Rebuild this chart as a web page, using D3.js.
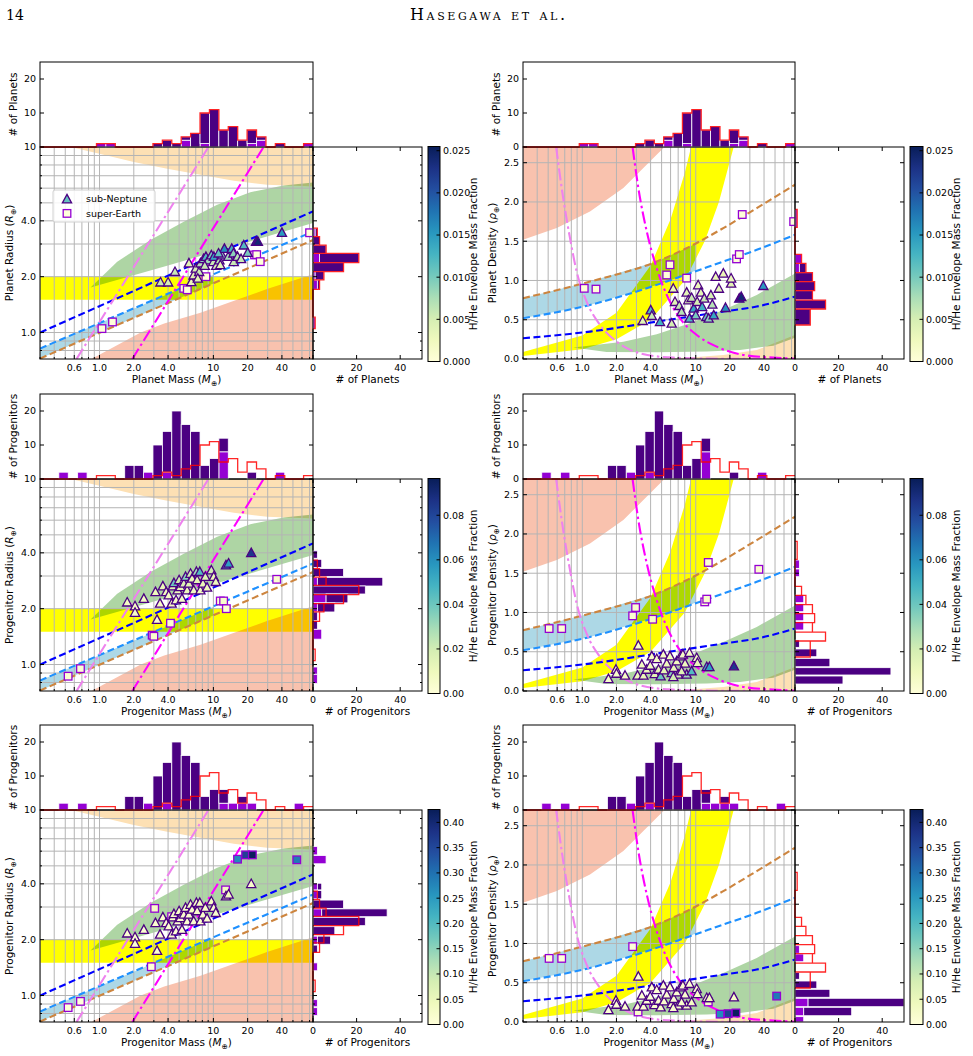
<!DOCTYPE html>
<html>
<head>
<meta charset="utf-8">
<script src="https://cdn.jsdelivr.net/npm/d3@7"></script>
<style>
  body { margin: 0; background: #fff; }
  svg text { font-family: "DejaVu Sans", sans-serif; fill: #000; }
</style>
</head>
<body>
<svg id="fig" width="973" height="1056"></svg>
<script>
// ---------------- data ----------------

// axis ticks
const massTicks = [0.6, 1, 2, 4, 10, 20, 40];
const massTickLabels = ["0.6", "1.0", "2.0", "4.0", "10", "20", "40"];
const radiusTicks = [1, 2, 4, 10];
const radiusTickLabels = ["1.0", "2.0", "4.0", "10"];
const densityTicks = [0, 0.5, 1, 1.5, 2, 2.5];
const topHistTicks = [0, 10, 20];
const sideHistTicks = [0, 20, 40];

const massDomain = [0.3, 75];
const radiusDomain = [0.72, 10];
const densityDomain = [0, 2.7];
const nMassBins = 29;

// top histograms: counts per log-mass bin (super-Earth bottom, sub-Neptune stacked on top)
const planetTopSE = [0,0,0,0,0,0,1,1,0,0,0,0,0,0,0,2,0,1,0,0,0,0,1,2,0,0,0,0,1];
const planetTopSN = [0,0,0,0,0,0,0,0,0,0,0,0,1,2,1,1,4,9,11,5,6,2,4,1,0,1,0,0,0];
const progTopSE2  = [0,0,2,0,2,0,0,0,0,0,0,2,0,2,0,0,0,0,0,8,0,0,0,0,0,2,0,0,0];
const progTopSN2  = [0,0,0,0,0,0,0,0,0,4,4,0,10,12,20,16,14,4,6,4,0,0,2,0,0,0,0,0,0];
const progTopSE3  = [0,0,2,0,2,0,0,0,0,0,0,2,0,2,0,0,0,0,0,2,2,2,2,0,0,0,0,2,0];
const progTopSN3  = [0,0,0,0,0,0,0,0,0,4,4,0,10,12,20,16,14,4,6,4,0,2,0,0,0,0,0,0,0];

// side histograms: [lo, hi, sub-Neptune, super-Earth]
const radHist1 = [[3.29,3.65,1,1],[2.96,3.29,3,0],[2.67,2.96,6,0],[2.38,2.67,18,3],[2.13,2.38,14,0],
                  [1.92,2.13,4,1],[1.71,1.92,1,2],[1.05,1.21,0,1]];
const radHist2 = [[3.74,4.10,2,0],[3.34,3.69,4,0],[2.98,3.29,14,0],[2.65,2.95,30,2],[2.40,2.65,24,0],
                  [2.15,2.40,10,6],[1.92,2.15,8,2],[1.72,1.92,2,0],[1.55,1.72,2,0],[1.37,1.55,0,4],
                  [0.886,0.97,0,2],[0.79,0.886,0,2]];
const radHist3 = [[5.73,6.36,0,2],[5.13,5.68,0,6],[3.71,4.03,2,2],[3.32,3.68,2,2],[2.95,3.27,14,0],
                  [2.66,2.93,30,4],[2.38,2.64,24,0],[2.12,2.35,10,0],[1.89,2.09,6,2],[1.70,1.87,2,0],
                  [1.36,1.50,0,2],[0.87,0.95,0,2],[0.78,0.86,0,2]];
const densHist1 = [[1.677,1.906,0,1],[1.218,1.333,0,3],[1.099,1.218,3,2],[0.985,1.099,8,0],[0.870,0.985,9,0],
                   [0.751,0.870,8,0],[0.637,0.751,14,0],[0.433,0.637,7,0]];
const densHist2 = [[1.562,1.668,0,2],[1.456,1.554,0,2],[1.125,1.223,0,4],[1.010,1.109,0,4],[0.895,0.997,0,4],
                   [0.777,0.883,0,4],[0.556,0.650,2,0],[0.437,0.535,10,0],[0.309,0.416,16,0],[0.204,0.297,44,0],
                   [0.089,0.191,22,0]];
const densHist3 = [[0.875,0.972,0,2],[0.768,0.866,0,4],[0.544,0.633,2,0],[0.429,0.522,10,0],[0.315,0.416,16,0],
                   [0.195,0.302,44,6],[0.080,0.187,22,4],[0.0,0.068,0,4]];

// model bands, radius view: [mass, radius]
const orangeBandR = { upper: [[0.557,10],[75,10]],
  lower: [[0.557,10],[1.02,9.17],[2.0,8.3],[3.93,7.63],[7.69,7.08],[15.1,6.57],[29.6,6.26],[75,6.12]] };
const greenBandR = { upper: [[0.834,1.75],[1.43,2.41],[2.8,3.15],[5.49,3.96],[10.8,4.88],[21.1,5.71],[41.4,6.2],[75,6.44]],
  lower: [[0.834,1.75],[3.92,2.29],[75,3.89]] };
const yellowBandR = { upper: [[0.3,2.0],[75,2.0]], lower: [[0.3,1.5],[75,1.5]] };
const blueBandR = { upper: [[0.3,0.82],[10,2.05]], lower: [[0.3,0.724],[10,1.84]] };
const salmonBandR = { upper: [[0.85,0.72],[1.17,0.80],[2.3,1.0],[3.7,1.12],[7.7,1.28],[15,1.48],[30,1.72],[75,2.06]],
  lower: [[0.85,0.72],[75,0.72]] };
// model lines, radius view
const blueLineR = [[0.3,1.0],[75,4.5]];
const dodgerLineR = [[0.3,0.82],[75,3.5]];
const peruLineR = [[0.3,0.724],[75,3.15]];
const violetLineR = [[0.628,0.72],[9.05,10]];
const magentaLineR = [[1.94,0.72],[27.6,10]];

// model bands, density view: [mass, density]
const salmonBandD = { upper: [[0.3,2.7],[5.3,2.7]],
  lower: [[0.3,1.518],[0.595,1.667],[1.169,1.879],[2.3,2.177],[3.69,2.474],[5.3,2.7]] };
const yellowBandD = { upper: [[0.3,0.09],[1,0.30],[2,0.59],[4,1.19],[6,1.78],[8,2.37],[9.1,2.7],[21.6,2.7]],
  lower: [[0.3,0.0375],[1,0.125],[2,0.25],[4,0.5],[8,1.0],[12,1.5],[16,2.0],[21.6,2.7]] };
const blueBandD = { upper: [[0.3,0.774],[1.17,0.986],[4.53,1.241],[8.9,1.433],[10,1.47]],
  lower: [[0.3,0.519],[1.17,0.689],[4.53,0.944],[8.9,1.093],[10,1.13]] };
const greenBandD = { upper: [[0.833,0.145],[2.3,0.221],[4.53,0.315],[8.9,0.455],[17.5,0.625],[34.5,0.816],[75,1.09]],
  lower: [[0.833,0.145],[1.64,0.09],[4.53,0.085],[12.5,0.094],[24.6,0.115],[48.3,0.17],[75,0.27]] };
const orangeBandD = { upper: [[3.9,0],[8.9,0.02],[17.5,0.05],[34.5,0.115],[75,0.306]], lower: [[3.9,0],[75,0]] };
// model lines, density view
const peruLineD = [[0.3,0.774],[1.17,0.986],[4.53,1.241],[8.9,1.433],[17.5,1.667],[34.5,1.922],[75,2.219]];
const dodgerLineD = [[0.3,0.519],[1.17,0.689],[4.53,0.944],[8.9,1.093],[17.5,1.241],[34.5,1.39],[75,1.582]];
const blueLineD = [[0.3,0.264],[1.17,0.349],[4.53,0.476],[8.9,0.54],[17.5,0.604],[34.5,0.668],[75,0.795]];
const violetLineD = [[0.588,2.7],[0.658,2.177],[0.779,1.539],[0.892,1.114],[1.092,0.731],[1.432,0.434],
                     [2.01,0.221],[3.23,0.072],[6.34,0.017],[17.5,0.002],[75,0.0]];
const magentaLineD = [[2.78,2.69],[3.12,2.177],[3.70,1.624],[4.53,1.156],[5.55,0.816],[7.26,0.519],
                      [10.2,0.306],[15.3,0.157],[24.6,0.06],[48.3,0.017],[75,0.004]];

// observed planets: [mass, radius, H/He fraction]
const planetTriR = [[3.43,1.87,0.006],[4.0,1.87,0.005],[4.6,2.13,0.006],[6.1,2.37,0.004],[6.4,1.88,0.003],
  [6.7,2.04,0.004],[7.0,2.22,0.005],[7.5,2.13,0.006],[7.7,2.37,0.007],[8.2,2.5,0.009],[8.6,2.57,0.012],
  [9.0,2.46,0.008],[9.6,2.62,0.010],[10,2.41,0.006],[10.1,2.57,0.014],[10.6,2.3,0.005],[11.3,2.46,0.007],
  [11.5,2.32,0.004],[11.9,2.62,0.009],[12.5,2.84,0.016],[13.5,2.57,0.008],[14.5,2.84,0.013],[15,2.68,0.009],
  [15.1,2.41,0.006],[16.3,2.57,0.007],[17.5,2.5,0.006],[18.5,2.96,0.012],[20,2.7,0.010],[23.7,3.1,0.022],
  [24.6,3.1,0.024],[40,3.46,0.015],[8.4,2.3,0.006],[7.3,1.96,0.004],[11.1,2.68,0.011]];
const planetSqR = [[1.05,1.05,0],[1.3,1.14,0],[5.5,1.73,0],[5.9,1.70,0],[8.6,2.0,0],[23,2.62,0],
  [24,2.63,0],[25.8,2.41,0],[70,3.45,0]];
// observed planets: [mass, density, H/He fraction]
const planetTriD = [[3.41,0.489,0.004],[4.01,0.625,0.012],[4.1,0.553,0.006],[4.84,0.476,0.013],[6.14,0.455,0.005],
  [6.34,0.90,0.003],[6.56,0.731,0.004],[7.16,0.68,0.006],[7.5,0.604,0.007],[8.32,0.85,0.004],[8.6,0.753,0.005],
  [8.8,0.519,0.012],[9.2,0.782,0.006],[9.6,0.646,0.014],[10.0,0.561,0.010],[10.3,0.731,0.005],[10.5,0.944,0.003],
  [11.1,0.85,0.004],[11.4,0.667,0.013],[11.9,0.774,0.006],[12.4,0.54,0.011],[13,0.519,0.009],[13.6,0.816,0.005],
  [14,0.697,0.007],[14.4,0.561,0.014],[15,1.05,0.003],[16,0.90,0.004],[17.5,1.093,0.003],[18.3,0.655,0.016],
  [20.5,0.965,0.004],[20.5,1.03,0.003],[24.2,0.774,0.022],[25.2,0.795,0.024],[39.4,0.935,0.015]];
const planetSqD = [[1.04,0.90,0],[1.32,0.89,0],[5.55,1.07,0],[5.93,1.20,0],[8.32,1.03,0],[22.9,1.275,0],
  [24.2,1.33,0],[25.7,1.84,0],[73,1.75,0]];

// progenitors: [mass, radius, fraction (model 2), fraction (model 3)]
const progTriR = [[1.75,2.17,0.008,0.01],[2.05,2.07,0.006,0.01],[2.05,1.91,0.005,0.008],[2.45,2.27,0.007,0.01],
  [3.2,1.75,0.004,0.008],[3.1,2.47,0.01,0.012],[3.4,2.14,0.006,0.01],[3.6,2.65,0.012,0.015],[3.85,2.47,0.009,0.012],
  [4.05,2.37,0.007,0.01],[4.3,2.14,0.005,0.008],[4.4,2.65,0.015,0.015],[4.5,2.76,0.04,0.02],[4.7,2.23,0.006,0.01],
  [4.85,2.52,0.01,0.012],[5.0,2.86,0.02,0.02],[5.13,2.63,0.012,0.015],[5.3,2.27,0.006,0.01],[5.5,2.74,0.018,0.018],
  [5.7,2.98,0.035,0.025],[5.88,2.52,0.01,0.012],[6.1,2.74,0.015,0.015],[6.3,3.1,0.02,0.025],[6.5,2.92,0.012,0.02],
  [6.72,2.52,0.008,0.012],[7.1,3.17,0.03,0.025],[7.2,2.86,0.014,0.018],[7.6,3.17,0.045,0.03],[7.69,2.52,0.008,0.012],
  [8.1,2.74,0.012,0.016],[8.5,2.98,0.016,0.02],[8.8,2.61,0.01,0.014],[9.6,3.23,0.02,0.025],[10.07,2.98,0.012,0.02],
  [10.5,2.8,0.01,0.016],[12.9,3.44,0.05,0.03],[13.6,3.52,0.055,0.035],[21.5,4.01,0.085,0.02]];
const progSqR2 = [[0.53,0.865,0.002],[0.68,0.95,0.002],[2.9,1.44,0.002],[3.0,1.42,0.003],[4.2,1.67,0.004],
  [11.5,2.2,0.003],[12.3,2.2,0.004],[13,2.0,0.002],[36,2.88,0.003]];
const progSqR3 = [[0.53,0.861,0.003],[0.68,0.93,0.003],[2.85,1.43,0.003],[3.05,2.95,0.02],[4.3,2.66,0.02],
  [12.8,3.71,0.03],[16.3,5.43,0.27],[19.2,5.73,0.36],[22,5.73,0.42],[54,5.39,0.29]];
// progenitors: [mass, density, fraction (model 2), fraction (model 3)]
const progTriD = [[1.70,0.157,0.005,0.008],[1.98,0.276,0.006,0.008],[2.0,0.225,0.005,0.008],[2.38,0.20,0.006,0.01],
  [3.12,0.582,0.004,0.006],[3.07,0.20,0.01,0.01],[3.35,0.34,0.008,0.01],[3.46,0.20,0.012,0.012],[3.7,0.276,0.01,0.012],
  [3.97,0.327,0.008,0.01],[4.1,0.446,0.006,0.01],[4.35,0.221,0.015,0.015],[4.53,0.412,0.007,0.01],[4.7,0.276,0.012,0.012],
  [4.9,0.191,0.04,0.02],[5.18,0.468,0.006,0.01],[5.25,0.268,0.014,0.015],[5.55,0.353,0.01,0.012],[5.93,0.446,0.007,0.01],
  [6.14,0.234,0.035,0.025],[6.4,0.298,0.012,0.015],[6.8,0.383,0.009,0.012],[7.0,0.213,0.02,0.02],[7.35,0.446,0.007,0.01],
  [7.7,0.468,0.006,0.01],[8.05,0.353,0.01,0.014],[8.32,0.213,0.03,0.025],[8.8,0.489,0.006,0.01],[9.2,0.255,0.045,0.03],
  [10.2,0.425,0.008,0.012],[10.35,0.361,0.012,0.016],[12.5,0.31,0.05,0.03],[13.2,0.31,0.055,0.035],[21.7,0.319,0.085,0.02],
  [7.5,0.255,0.016,0.018],[6.34,0.183,0.02,0.02]];
const progSqD2 = [[0.51,0.795,0.002],[0.658,0.795,0.002],[2.78,0.957,0.002],[2.95,1.063,0.003],[4.17,0.914,0.004],
  [12,1.135,0.003],[12.5,1.17,0.004],[12.9,1.637,0.002],[36,1.55,0.003]];
const progSqD3 = [[0.51,0.81,0.003],[0.658,0.81,0.003],[2.78,0.96,0.003],[3.1,0.128,0.02],[4.25,0.23,0.02],
  [12.9,0.255,0.03],[16.4,0.10,0.27],[19.3,0.106,0.36],[22.6,0.115,0.42],[51.7,0.33,0.29]];

// colour bars
const cbarMax = [0.0255, 0.0965, 0.4255];
const cbarTicks = [[0, 0.005, 0.01, 0.015, 0.02, 0.025], [0, 0.02, 0.04, 0.06, 0.08],
                   [0, 0.05, 0.1, 0.15, 0.2, 0.25, 0.3, 0.35, 0.4]];
const cbarFormat = [".3f", ".2f", ".2f"];

// ---------------- layout ----------------
const svg = d3.select("#fig");
const defs = svg.append("defs");
const TOP_H = 85, MAIN_H = 212, HIST_W = 109;
const colLeft = [40, 523], colW = [273, 272];
const cbarX = [428, 910], cbarW = [12, 13];
const rowTop = [62, 394, 725];
const SN_COLOR = "#4b0082", SE_COLOR = "#9400d3";
const TICK_FS = "9.5px", LABEL_FS = "10.5px";

const massEdges = d3.range(nMassBins + 1)
  .map(i => massDomain[0] * Math.pow(massDomain[1] / massDomain[0], i / nMassBins));
const planetTopTotal = planetTopSE.map((d, i) => d + planetTopSN[i]);

// header
svg.append("text").attr("x", 6).attr("y", 20).text("14")
  .style("font-family", "'DejaVu Serif', serif").style("font-size", "14px");
svg.append("text").attr("x", 410).attr("y", 20).text("Hasegawa et al.")
  .attr("textLength", 155).attr("lengthAdjust", "spacing")
  .style("font-family", "'DejaVu Serif', serif").style("font-size", "16px").style("font-variant", "small-caps");

function labelWithSym(sel, pre, sym) {
  sel.append("tspan").text(pre + " (");
  sel.append("tspan").text(sym).style("font-style", "italic");
  sel.append("tspan").text("\u2295").attr("dy", "2.5").style("font-size", "7.5px");
  sel.append("tspan").text(")").attr("dy", "-2.5");
}

function band(g, b, x, y, fill) {
  const pts = b.upper.concat(b.lower.slice().reverse());
  g.append("path")
    .attr("d", d3.line().x(d => x(d[0])).y(d => y(d[1]))(pts) + "Z")
    .attr("fill", fill)
    .style("mix-blend-mode", "multiply");
}

function modelLine(g, pts, x, y, color, dash, curve) {
  g.append("path")
    .datum(pts)
    .attr("fill", "none")
    .attr("stroke", color)
    .attr("stroke-width", 2.1)
    .attr("stroke-dasharray", dash)
    .attr("d", d3.line().curve(curve || d3.curveLinear).x(d => x(d[0])).y(d => y(d[1])));
}

function triPath(s) { return `M0,${-s}L${s},${s * 0.85}L${-s},${s * 0.85}Z`; }

function drawPanel(p) {
  const row = p.row, col = p.col;
  const left = colLeft[col], right = left + colW[col];
  const top = rowTop[row] + TOP_H, bottom = top + MAIN_H;
  const isR = p.kind === "R";

  const x = d3.scaleLog().domain(massDomain).range([left, right]);
  const y = isR ? d3.scaleLog().domain(radiusDomain).range([bottom, top])
                : d3.scaleLinear().domain(densityDomain).range([bottom, top]);
  const color = d3.scaleSequential(d3.interpolateYlGnBu).domain([0, cbarMax[row]]);

  // ---- main panel ----
  const clipId = `clip-${row}-${col}`;
  defs.append("clipPath").attr("id", clipId).append("rect")
    .attr("x", left).attr("y", top).attr("width", right - left).attr("height", MAIN_H);
  const gm = svg.append("g").attr("clip-path", `url(#${clipId})`);
  gm.append("rect").attr("x", left).attr("y", top).attr("width", right - left).attr("height", MAIN_H).attr("fill", "#fff");

  if (isR) {
    band(gm, yellowBandR, x, y, "#ffff00");
    band(gm, blueBandR, x, y, "#add8e6");
    band(gm, greenBandR, x, y, "#aed5a4");
    band(gm, salmonBandR, x, y, "#f9c2ae");
    band(gm, orangeBandR, x, y, "#fde0b4");
  } else {
    band(gm, yellowBandD, x, y, "#ffff00");
    band(gm, blueBandD, x, y, "#add8e6");
    band(gm, greenBandD, x, y, "#aed5a4");
    band(gm, salmonBandD, x, y, "#f9c2ae");
    band(gm, orangeBandD, x, y, "#fde0b4");
  }

  // grid
  const xGrid = x.ticks();
  const yGrid = isR ? y.ticks() : densityTicks;
  gm.selectAll(null).data(xGrid).enter().append("line")
    .attr("x1", d => x(d)).attr("x2", d => x(d)).attr("y1", top).attr("y2", bottom)
    .attr("stroke", "#b4b4b4").attr("stroke-width", 1);
  gm.selectAll(null).data(yGrid).enter().append("line")
    .attr("y1", d => y(d)).attr("y2", d => y(d)).attr("x1", left).attr("x2", right)
    .attr("stroke", "#b4b4b4").attr("stroke-width", 1);

  // model curves
  const dash = "7,3.5", dashDot = "12,3.5,2.5,3.5";
  if (isR) {
    modelLine(gm, peruLineR, x, y, "#cd853f", dash);
    modelLine(gm, dodgerLineR, x, y, "#1e90ff", dash);
    modelLine(gm, blueLineR, x, y, "#0000ff", dash);
    modelLine(gm, violetLineR, x, y, "#ee82ee", dashDot);
    modelLine(gm, magentaLineR, x, y, "#ff00ff", dashDot);
  } else {
    const c = d3.curveMonotoneX;
    modelLine(gm, peruLineD, x, y, "#cd853f", dash, c);
    modelLine(gm, dodgerLineD, x, y, "#1e90ff", dash, c);
    modelLine(gm, blueLineD, x, y, "#0000ff", dash, c);
    modelLine(gm, violetLineD, x, y, "#ee82ee", dashDot, c);
    modelLine(gm, magentaLineD, x, y, "#ff00ff", dashDot, c);
  }

  // markers
  gm.selectAll(null).data(p.sq).enter().append("rect")
    .attr("x", d => x(d[0]) - 3.8).attr("y", d => y(d[1]) - 3.8)
    .attr("width", 7.6).attr("height", 7.6)
    .attr("fill", d => color(d[2])).attr("stroke", SE_COLOR).attr("stroke-width", 1.3);
  gm.selectAll(null).data(p.tri).enter().append("path")
    .attr("d", triPath(4.6))
    .attr("transform", d => `translate(${x(d[0])},${y(d[1])})`)
    .attr("fill", d => color(d[p.fIdx])).attr("stroke", SN_COLOR).attr("stroke-width", 1.3);

  // frame + ticks
  svg.append("rect").attr("x", left).attr("y", top).attr("width", right - left).attr("height", MAIN_H)
    .attr("fill", "none").attr("stroke", "#000").attr("stroke-width", 1);
  const xMinor = xGrid.filter(d => !massTicks.includes(d));
  svg.selectAll(null).data(massTicks).enter().append("line")
    .attr("x1", d => x(d)).attr("x2", d => x(d)).attr("y1", bottom).attr("y2", bottom - 4).attr("stroke", "#000");
  svg.selectAll(null).data(xMinor).enter().append("line")
    .attr("x1", d => x(d)).attr("x2", d => x(d)).attr("y1", bottom).attr("y2", bottom - 2).attr("stroke", "#000");
  svg.selectAll(null).data(massTicks).enter().append("text")
    .attr("x", d => x(d)).attr("y", bottom + 12).attr("text-anchor", "middle")
    .style("font-size", TICK_FS).text((d, i) => massTickLabels[i]);

  const yTicks = isR ? radiusTicks : densityTicks;
  const yLabels = isR ? radiusTickLabels : densityTicks.map(d3.format(".1f"));
  const yMinor = isR ? yGrid.filter(d => !radiusTicks.includes(d)) : [];
  svg.selectAll(null).data(yTicks).enter().append("line")
    .attr("x1", left).attr("x2", left + 4).attr("y1", d => y(d)).attr("y2", d => y(d)).attr("stroke", "#000");
  svg.selectAll(null).data(yMinor).enter().append("line")
    .attr("x1", left).attr("x2", left + 2).attr("y1", d => y(d)).attr("y2", d => y(d)).attr("stroke", "#000");
  svg.selectAll(null).data(yTicks).enter().append("text")
    .attr("x", left - 4).attr("y", d => y(d)).attr("dy", "0.35em").attr("text-anchor", "end")
    .style("font-size", TICK_FS).text((d, i) => yLabels[i]);

  svg.append("text").attr("x", (left + right) / 2).attr("y", bottom + 24).attr("text-anchor", "middle")
    .style("font-size", LABEL_FS).call(labelWithSym, p.xlabel, "M");
  svg.append("text").attr("transform", `translate(${left - 27},${(top + bottom) / 2}) rotate(-90)`)
    .attr("text-anchor", "middle").style("font-size", LABEL_FS)
    .call(labelWithSym, p.ylabel, isR ? "R" : "\u03c1");

  // ---- top histogram ----
  const yt = d3.scaleLinear().domain([0, 25]).range([top, rowTop[row]]);
  const gt = svg.append("g");
  const bins = d3.range(nMassBins);
  gt.selectAll(null).data(bins.filter(i => p.topSE[i] > 0)).enter().append("rect")
    .attr("x", i => x(massEdges[i])).attr("width", i => x(massEdges[i + 1]) - x(massEdges[i]))
    .attr("y", i => yt(p.topSE[i])).attr("height", i => yt(0) - yt(p.topSE[i]))
    .attr("fill", SE_COLOR).attr("stroke", "#fff").attr("stroke-width", 0.8);
  gt.selectAll(null).data(bins.filter(i => p.topSN[i] > 0)).enter().append("rect")
    .attr("x", i => x(massEdges[i])).attr("width", i => x(massEdges[i + 1]) - x(massEdges[i]))
    .attr("y", i => yt(p.topSE[i] + p.topSN[i])).attr("height", i => yt(0) - yt(p.topSN[i]))
    .attr("fill", SN_COLOR).attr("stroke", "#fff").attr("stroke-width", 0.8);
  const stepTop = [];
  bins.forEach(i => { stepTop.push([massEdges[i], planetTopTotal[i]]); stepTop.push([massEdges[i + 1], planetTopTotal[i]]); });
  gt.append("path").datum(stepTop).attr("fill", "none").attr("stroke", "#ff0000").attr("stroke-opacity", 0.85)
    .attr("stroke-width", 1.3).attr("d", d3.line().x(d => x(d[0])).y(d => yt(d[1])));
  gt.append("rect").attr("x", left).attr("y", rowTop[row]).attr("width", right - left).attr("height", TOP_H)
    .attr("fill", "none").attr("stroke", "#000");
  gt.selectAll(null).data(topHistTicks).enter().append("line")
    .attr("x1", left).attr("x2", left + 4).attr("y1", d => yt(d)).attr("y2", d => yt(d)).attr("stroke", "#000");
  gt.selectAll(null).data(topHistTicks).enter().append("line")
    .attr("x1", right).attr("x2", right - 4).attr("y1", d => yt(d)).attr("y2", d => yt(d)).attr("stroke", "#000");
  // in the radius panels the "0" of this axis sits under the "10" of the main axis
  gt.selectAll(null).data(isR ? topHistTicks.filter(d => d > 0) : topHistTicks).enter().append("text")
    .attr("x", left - 4).attr("y", d => yt(d)).attr("dy", "0.35em").attr("text-anchor", "end")
    .style("font-size", TICK_FS).text(d => d);
  gt.append("text").attr("transform", `translate(${left - 23},${(rowTop[row] + top) / 2}) rotate(-90)`)
    .attr("text-anchor", "middle").style("font-size", LABEL_FS).text(p.hlabel);

  // ---- side histogram ----
  const xs = d3.scaleLinear().domain([0, 50]).range([right, right + HIST_W]);
  const gs = svg.append("g");
  gs.selectAll(null).data(p.side.filter(d => d[3] > 0)).enter().append("rect")
    .attr("x", xs(0)).attr("width", d => xs(d[3]) - xs(0))
    .attr("y", d => y(d[1])).attr("height", d => y(d[0]) - y(d[1]))
    .attr("fill", SE_COLOR).attr("stroke", "#fff").attr("stroke-width", 0.8);
  gs.selectAll(null).data(p.side.filter(d => d[2] > 0)).enter().append("rect")
    .attr("x", d => xs(d[3])).attr("width", d => xs(d[2]) - xs(0))
    .attr("y", d => y(d[1])).attr("height", d => y(d[0]) - y(d[1]))
    .attr("fill", SN_COLOR).attr("stroke", "#fff").attr("stroke-width", 0.8);
  const ref = (isR ? radHist1 : densHist1).slice().sort((a, b) => a[0] - b[0]);
  const stepSide = [];
  ref.forEach(d => {
    const c = d[2] + d[3];
    stepSide.push([0, d[0]], [c, d[0]], [c, d[1]], [0, d[1]]);
  });
  gs.append("path").datum(stepSide).attr("fill", "none").attr("stroke", "#ff0000").attr("stroke-opacity", 0.85)
    .attr("stroke-width", 1.3).attr("d", d3.line().x(d => xs(d[0])).y(d => y(d[1])));
  gs.append("rect").attr("x", right).attr("y", top).attr("width", HIST_W).attr("height", MAIN_H)
    .attr("fill", "none").attr("stroke", "#000");
  const sideY = isR ? radiusTicks.filter(d => d < 10) : densityTicks.filter(d => d > 0);
  [right, right + HIST_W].forEach((sx, k) => {
    const dir = k === 0 ? 1 : -1;
    gs.selectAll(null).data(sideY).enter().append("line")
      .attr("x1", sx).attr("x2", sx + 4 * dir).attr("y1", d => y(d)).attr("y2", d => y(d)).attr("stroke", "#000");
    gs.selectAll(null).data(yMinor).enter().append("line")
      .attr("x1", sx).attr("x2", sx + 2 * dir).attr("y1", d => y(d)).attr("y2", d => y(d)).attr("stroke", "#000");
  });
  [bottom, top].forEach((sy, k) => {
    const dir = k === 0 ? -1 : 1;
    gs.selectAll(null).data(sideHistTicks).enter().append("line")
      .attr("x1", d => xs(d)).attr("x2", d => xs(d)).attr("y1", sy).attr("y2", sy + 4 * dir).attr("stroke", "#000");
  });
  gs.selectAll(null).data(sideHistTicks).enter().append("text")
    .attr("x", d => xs(d)).attr("y", bottom + 12).attr("text-anchor", "middle")
    .style("font-size", TICK_FS).text(d => d);
  gs.append("text").attr("x", right + HIST_W / 2).attr("y", bottom + 24).attr("text-anchor", "middle")
    .style("font-size", LABEL_FS).text(p.hlabel);

  // ---- colour bar ----
  const cx = cbarX[col], cw = cbarW[col];
  const cTop = top - 0.5, cBot = bottom + 2.5;
  const gradId = `grad-${row}-${col}`;
  const grad = defs.append("linearGradient").attr("id", gradId).attr("x1", 0).attr("y1", 1).attr("x2", 0).attr("y2", 0);
  d3.range(0, 1.0001, 0.1).forEach(t => grad.append("stop").attr("offset", t).attr("stop-color", d3.interpolateYlGnBu(t)));
  svg.append("rect").attr("x", cx).attr("y", cTop).attr("width", cw).attr("height", cBot - cTop)
    .attr("fill", `url(#${gradId})`).attr("stroke", "#000").attr("stroke-width", 1);
  const yc = d3.scaleLinear().domain([0, cbarMax[row]]).range([cBot, cTop]);
  svg.selectAll(null).data(cbarTicks[row]).enter().append("line")
    .attr("x1", cx + cw).attr("x2", cx + cw - 3.5).attr("y1", d => yc(d)).attr("y2", d => yc(d)).attr("stroke", "#000");
  svg.selectAll(null).data(cbarTicks[row]).enter().append("text")
    .attr("x", cx + cw + 3).attr("y", d => yc(d)).attr("dy", "0.35em")
    .style("font-size", TICK_FS).text(d => d3.format(cbarFormat[row])(d));
  svg.append("text").attr("transform", `translate(${cx + cw + 37},${(cTop + cBot) / 2}) rotate(-90)`)
    .attr("text-anchor", "middle").style("font-size", LABEL_FS).text("H/He Envelope Mass Fraction");

  // ---- legend ----
  if (p.legend) {
    const lx = left + 13, ly = top + 43;
    svg.append("rect").attr("x", lx).attr("y", ly).attr("width", 102).attr("height", 32).attr("rx", 2)
      .attr("fill", "#fff").attr("fill-opacity", 0.85).attr("stroke", "#d0d0d0");
    svg.append("path").attr("d", triPath(4.6)).attr("transform", `translate(${lx + 14},${ly + 9})`)
      .attr("fill", color(0.011)).attr("stroke", SN_COLOR).attr("stroke-width", 1.3);
    svg.append("rect").attr("x", lx + 10.2).attr("y", ly + 19.6).attr("width", 7.6).attr("height", 7.6)
      .attr("fill", color(0)).attr("stroke", SE_COLOR).attr("stroke-width", 1.3);
    svg.append("text").attr("x", lx + 33).attr("y", ly + 9).attr("dy", "0.35em").style("font-size", TICK_FS).text("sub-Neptune");
    svg.append("text").attr("x", lx + 33).attr("y", ly + 23.5).attr("dy", "0.35em").style("font-size", TICK_FS).text("super-Earth");
  }
}

const panels = [
  { row: 0, col: 0, kind: "R", tri: planetTriR, sq: planetSqR, fIdx: 2, topSE: planetTopSE, topSN: planetTopSN,
    side: radHist1, xlabel: "Planet Mass", ylabel: "Planet Radius", hlabel: "# of Planets", legend: true },
  { row: 0, col: 1, kind: "D", tri: planetTriD, sq: planetSqD, fIdx: 2, topSE: planetTopSE, topSN: planetTopSN,
    side: densHist1, xlabel: "Planet Mass", ylabel: "Planet Density", hlabel: "# of Planets" },
  { row: 1, col: 0, kind: "R", tri: progTriR, sq: progSqR2, fIdx: 2, topSE: progTopSE2, topSN: progTopSN2,
    side: radHist2, xlabel: "Progenitor Mass", ylabel: "Progenitor Radius", hlabel: "# of Progenitors" },
  { row: 1, col: 1, kind: "D", tri: progTriD, sq: progSqD2, fIdx: 2, topSE: progTopSE2, topSN: progTopSN2,
    side: densHist2, xlabel: "Progenitor Mass", ylabel: "Progenitor Density", hlabel: "# of Progenitors" },
  { row: 2, col: 0, kind: "R", tri: progTriR, sq: progSqR3, fIdx: 3, topSE: progTopSE3, topSN: progTopSN3,
    side: radHist3, xlabel: "Progenitor Mass", ylabel: "Progenitor Radius", hlabel: "# of Progenitors" },
  { row: 2, col: 1, kind: "D", tri: progTriD, sq: progSqD3, fIdx: 3, topSE: progTopSE3, topSN: progTopSN3,
    side: densHist3, xlabel: "Progenitor Mass", ylabel: "Progenitor Density", hlabel: "# of Progenitors" }
];
panels.forEach(drawPanel);
</script>
</body>
</html>
